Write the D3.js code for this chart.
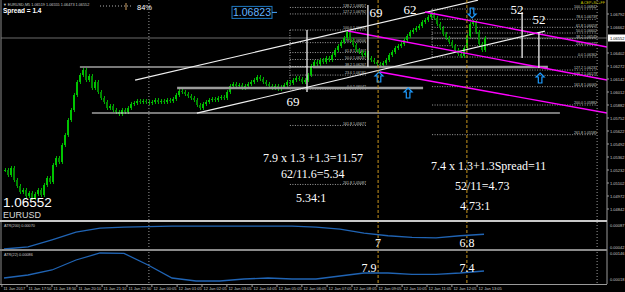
<!DOCTYPE html>
<html>
<head>
<style>
  body { margin: 0; background: #000; }
  svg { display: block; }
  .tiny { font-family: "Liberation Sans", Arial, sans-serif; fill: #c8c8c8; }
  .num { font-family: "Liberation Serif", "Times New Roman", serif; fill: #fff; }
</style>
<script src="https://d3js.org/d3.v7.min.js"></script>
</head>
<body>
<svg id="chart" width="625" height="292"></svg>
<script>
// EURUSD M5 closes, one per bar
var closes = [
  1.0523,1.0518,1.0525,1.0513,1.0507,1.0501,1.0503,1.0497,1.0500,1.0495,
  1.0499,1.0503,1.0498,1.0508,1.0515,1.0511,1.0528,1.0535,1.0531,1.0548,
  1.0558,1.0573,1.0583,1.0598,1.0611,1.0618,1.0623,1.0613,1.0617,1.0605,
  1.0611,1.0601,1.0595,1.0591,1.0585,1.0587,1.0583,1.0581,1.0579,1.0583,
  1.0581,1.0585,1.0589,1.0590,1.0592,1.0591,1.0592,1.0591,1.0590,1.0591,
  1.0593,1.0591,1.0592,1.0591,1.0593,1.0592,1.0594,1.0598,1.0602,1.0601,
  1.0599,1.0597,1.0595,1.0593,1.0588,1.0585,1.0589,1.0591,1.0593,1.0594,
  1.0593,1.0595,1.0596,1.0595,1.0601,1.0607,1.0609,1.0607,1.0608,1.0605,
  1.0607,1.0609,1.0611,1.0613,1.0616,1.0614,1.0611,1.0609,1.0607,1.0605,
  1.0607,1.0604,1.0606,1.0608,1.0611,1.0610,1.0613,1.0615,1.0614,1.0611,
  1.0613,1.0618,1.0627,1.0631,1.0629,1.0633,1.0631,1.0635,1.0633,1.0638,
  1.0643,1.0647,1.0651,1.0655,1.0661,1.0653,1.0648,1.0643,1.0641,1.0638,
  1.0640,1.0635,1.0633,1.0631,1.0629,1.0628,1.0630,1.0633,1.0638,1.0641,
  1.0645,1.0647,1.0649,1.0653,1.0657,1.0661,1.0663,1.0665,1.0667,1.0671,
  1.0673,1.0676,1.0679,1.0675,1.0669,1.0665,1.0659,1.0655,1.0651,1.0647,
  1.0643,1.0639,1.0637,1.0645,1.0657,1.0669,1.0671,1.0661,1.0649,1.0643,
  1.0655
];

// indicator samples, every 8th bar
var atrIdx = [0,8,16,24,32,40,48,56,64,72,80,88,96,104,112,120,128,136,144,152,160];
var atr200 = [0.00040,0.00044,0.00058,0.00073,0.00081,0.00083,0.00084,0.00085,0.00085,0.00085,
              0.00085,0.00085,0.00085,0.00083,0.00079,0.00071,0.00066,0.00063,0.00062,0.00066,0.00069];
var atr22 = [0.00025,0.00040,0.00065,0.00115,0.00150,0.00148,0.00090,0.00025,0.00010,0.00010,
             0.00020,0.00025,0.00020,0.00020,0.00035,0.00050,0.00050,0.00043,0.00043,0.00050,0.00060];

var priceTicks = ["1.06792","1.06662","1.06532","1.06402","1.06272","1.06142","1.06012","1.05882",
                  "1.05752","1.05622","1.05492","1.05362","1.05232","1.05102","1.04972","1.04842"];
var atr200Ticks = ["0.00087","0.00042"];
var atr22Ticks = ["0.00146","0.00018"];

var timeIdx = [-0.7,7.7,16,24.3,32.7,41,49.3,57.7,66,74.3,82.7,91,99.3,107.7,116,124.3,132.7,141,149.3,157.7];
var timeLabels = ["11 Jan 2017","11 Jan 17:50","11 Jan 18:50","11 Jan 20:10","11 Jan 21:10","11 Jan 22:50",
                  "12 Jan 00:05","12 Jan 01:05","12 Jan 02:05","12 Jan 03:05","12 Jan 04:05","12 Jan 05:05",
                  "12 Jan 06:05","12 Jan 07:05","12 Jan 08:05","12 Jan 09:05","12 Jan 10:05","12 Jan 11:05",
                  "12 Jan 12:05","12 Jan 13:05"];

// chart objects: [bar1, price1, bar2, price2]
var whiteLines = [[43.7,1.0613,158,1.0693],[64.3,1.0580,180.3,1.0662],[25.3,1.06262,103,1.06262],[29.3,1.05802,185.3,1.05802]];
var grayLines = [[57.7,1.06052,139.7,1.06052],[103,1.06262,181.3,1.06262]];
var magentaLines = [[140.3,1.06812,201,1.06462],[114.7,1.06622,201,1.06132],[125.3,1.06212,201,1.05802]];
var whiteVerticals = [[101,1.06632,1.06012],[121.3,1.06882,1.06262],[172.7,1.06812,1.06352],[178.3,1.06612,1.06252]];
var orangeVerticals = [124.7,154.3];
var dottedVerticals = [48.3,197.7];

var fibLevels = [138.2,127.2,100,78.6,61.8,50,38.2,23.6,0,-61.8,-161.8];
var fibA = [95.3,120.7,1.06632,1.06042];
var fibLevelsB = [100,78.6,61.8,50,38.2,23.6,0,-27.2,-38.2,-61.8,-100,-161.8];
var fibB = [142.7,197.7,1.06842,1.06362];

var bigLabels = [["69",124,1.06812],["62",135.3,1.06842],["52",171,1.06842],["52",178.3,1.06742],["69",96.3,1.05922]];
var calcTexts = [["7.9 x 1.3 +1.3=11.57",86.3,1.05312],["62/11.6=5.34",92.3,1.05152],["5.34:1",97.3,1.04912],
                 ["7.4 x 1.3+1.3Spread=11",142.3,1.05232],["52/11=4.73",150.3,1.05032],["4.73:1",152,1.04832]];
var arrows = [[125,1.06162,1],[134.7,1.06002,1],[178.7,1.06152,1],[156,1.06802,-1]];
var panel1Notes = [["7",124.7,0.00044],["6.8",154.3,0.00044]];
var panel2Notes = [["7.9",121.7,0.00055],["7.4",154.3,0.00055]];

var bid = 1.06552;
var priceLabel = 1.06823;

var svg = d3.select("#chart");
var W = 625, H = 292, axisX = 607;

var x = d3.scaleLinear().domain([0, 160]).range([4, 484]);
var y = d3.scaleLinear().domain([1.04732, 1.06932]).range([220, 0]);
var y1 = d3.scaleLinear().domain([0.00038, 0.00095]).range([250, 221]);
var y2 = d3.scaleLinear().domain([0, 0.0016]).range([283, 251]);

svg.append("rect").attr("width", W).attr("height", H).attr("fill", "#000");

svg.append("defs").append("clipPath").attr("id", "mainClip")
  .append("rect").attr("x", 1).attr("y", 0).attr("width", axisX - 1).attr("height", 220);

var main = svg.append("g").attr("clip-path", "url(#mainClip)");

// full-height separators
dottedVerticals.forEach(function(b) {
  svg.append("line").attr("x1", x(b)).attr("x2", x(b)).attr("y1", 0).attr("y2", 284)
    .attr("stroke", "#9a9a9a").attr("stroke-dasharray", "1,2");
});

// bid line
main.append("line").attr("x1", 1).attr("x2", axisX).attr("y1", y(bid)).attr("y2", y(bid))
  .attr("stroke", "#6a6a6a");

// fibonacci sets
function drawFib(levels, f) {
  var g = main.append("g");
  levels.forEach(function(l) {
    var p = f[3] + (f[2] - f[3]) * l / 100;
    g.append("line").attr("x1", x(f[0])).attr("x2", x(f[1])).attr("y1", y(p)).attr("y2", y(p))
      .attr("stroke", "#a0a0a0").attr("stroke-dasharray", "1,1.5");
    g.append("text").attr("class", "tiny").attr("x", x(f[1])).attr("y", y(p) - 0.8)
      .attr("text-anchor", "end").attr("font-size", 3.6)
      .text((l < 0 ? 100 - l : l).toFixed(1) + " " + p.toFixed(5));
  });
  g.append("line").attr("x1", x(f[0])).attr("x2", x(f[0])).attr("y1", y(f[2])).attr("y2", y(f[3]))
    .attr("stroke", "#a0a0a0").attr("stroke-dasharray", "1,1.5");
}
drawFib(fibLevels, fibA);
drawFib(fibLevelsB, fibB);

// candles
var bars = closes.map(function(c, i) { return {i: i, o: i ? closes[i - 1] : c, c: c}; });
var cg = main.append("g").attr("shape-rendering", "crispEdges");
cg.selectAll("line").data(bars).enter().append("line")
  .attr("x1", function(d) { return x(d.i) + 1; })
  .attr("x2", function(d) { return x(d.i) + 1; })
  .attr("y1", function(d) { return y(Math.max(d.o, d.c)) - 2; })
  .attr("y2", function(d) { return y(Math.min(d.o, d.c)) + 2; })
  .attr("stroke", "#00b000");
cg.selectAll("rect").data(bars).enter().append("rect")
  .attr("x", function(d) { return x(d.i); })
  .attr("width", 2)
  .attr("y", function(d) { return y(Math.max(d.o, d.c)); })
  .attr("height", function(d) { return Math.max(1, Math.abs(y(d.o) - y(d.c))); })
  .attr("fill", function(d) { return d.c >= d.o ? "#00c400" : "#008a00"; });

// trend lines
function seg(list, color, w) {
  list.forEach(function(s) {
    main.append("line").attr("x1", x(s[0])).attr("y1", y(s[1])).attr("x2", x(s[2])).attr("y2", y(s[3]))
      .attr("stroke", color).attr("stroke-width", w);
  });
}
seg(grayLines, "#9c9c9c", 2.5);
seg(whiteLines, "#f0f0f0", 1.2);
seg(magentaLines, "#ff00ff", 1.4);

whiteVerticals.forEach(function(v) {
  main.append("line").attr("x1", x(v[0])).attr("x2", x(v[0])).attr("y1", y(v[1])).attr("y2", y(v[2]))
    .attr("stroke", "#f0f0f0").attr("stroke-width", 1.3);
});

orangeVerticals.forEach(function(b) {
  svg.append("line").attr("x1", x(b)).attr("x2", x(b)).attr("y1", 0).attr("y2", 284)
    .attr("stroke", "#c8961e").attr("stroke-dasharray", "3,2");
});

// arrows
arrows.forEach(function(a) {
  main.append("path")
    .attr("d", "M0,-5L4,-1L1.8,-1L1.8,5L-1.8,5L-1.8,-1L-4,-1Z")
    .attr("transform", "translate(" + x(a[0]) + "," + y(a[1]) + ") scale(1," + a[2] + ")")
    .attr("fill", "none").attr("stroke", "#1e9cff").attr("stroke-width", 1.2);
});

// numbers and calc texts
bigLabels.forEach(function(t) {
  svg.append("text").attr("class", "num").attr("x", x(t[1])).attr("y", y(t[2]))
    .attr("text-anchor", "middle").attr("dominant-baseline", "central").attr("font-size", 13).text(t[0]);
});
calcTexts.forEach(function(t) {
  svg.append("text").attr("class", "num").attr("x", x(t[1])).attr("y", y(t[2]))
    .attr("font-size", 12).text(t[0]);
});

// price label object
var plx = x(76), ply = y(priceLabel) + 1.5;
svg.append("rect").attr("x", plx).attr("y", ply - 6).attr("width", 40).attr("height", 12)
  .attr("fill", "#000").attr("stroke", "#1f78c0");
svg.append("line").attr("x1", plx + 40).attr("x2", plx + 45).attr("y1", ply).attr("y2", ply)
  .attr("stroke", "#4aa8ff");
svg.append("text").attr("x", plx + 20).attr("y", ply + 3.8).attr("text-anchor", "middle")
  .attr("font-family", "Liberation Sans, Arial, sans-serif").attr("font-size", 10.5)
  .attr("fill", "#62b4ff").text(priceLabel.toFixed(5));

// top-left info
svg.append("text").attr("class", "tiny").attr("x", 3).attr("y", 6).attr("font-size", 3.8).attr("fill", "#e0e0e0")
  .text("\u25BC EURUSD,M5  1.06519 1.06555 1.06473 1.06552");
svg.append("text").attr("x", 3).attr("y", 13).attr("font-family", "Liberation Sans, Arial, sans-serif")
  .attr("font-size", 6.5).attr("font-weight", "bold").attr("fill", "#fff").text("Spread = 1.4");
svg.append("line").attr("x1", 100).attr("x2", 133).attr("y1", 6).attr("y2", 6)
  .attr("stroke", "#b0b0b0").attr("stroke-dasharray", "1,2");
svg.append("line").attr("x1", 126).attr("x2", 126).attr("y1", 3).attr("y2", 10)
  .attr("stroke", "#d0a060").attr("stroke-width", 1);
svg.append("text").attr("x", 137).attr("y", 9.5).attr("font-family", "Liberation Sans, Arial, sans-serif")
  .attr("font-size", 7.5).attr("fill", "#fff").text("84%");
svg.append("text").attr("class", "tiny").attr("x", 605).attr("y", 3.8).attr("text-anchor", "end")
  .attr("font-size", 3.6).style("fill", "#c8c800").text("A.CEP+SC+FF");

// big price and symbol
svg.append("text").attr("x", 3).attr("y", 207).attr("font-family", "Liberation Sans, Arial, sans-serif")
  .attr("font-size", 13.5).attr("fill", "#fff").text(bid.toFixed(5));
svg.append("text").attr("x", 3).attr("y", 218).attr("font-family", "Liberation Sans, Arial, sans-serif")
  .attr("font-size", 9).attr("fill", "#d8d8d8").text("EURUSD");

// indicator panels
var line1 = d3.line().x(function(d, i) { return x(atrIdx[i]); }).y(function(d) { return y1(d); });
var line2 = d3.line().x(function(d, i) { return x(atrIdx[i]); }).y(function(d) { return y2(d); });
svg.append("path").attr("d", line1(atr200)).attr("fill", "none").attr("stroke", "#2064b4").attr("stroke-width", 1.3);
svg.append("path").attr("d", line2(atr22)).attr("fill", "none").attr("stroke", "#2064b4").attr("stroke-width", 1.3);
svg.append("text").attr("class", "tiny").attr("x", 4).attr("y", 227).attr("font-size", 3.8).text("ATR(200) 0.00070");
svg.append("text").attr("class", "tiny").attr("x", 4).attr("y", 256).attr("font-size", 3.8).text("ATR(22) 0.00086");

panel1Notes.forEach(function(t) {
  svg.append("text").attr("class", "num").attr("x", x(t[1])).attr("y", y1(t[2]))
    .attr("text-anchor", "middle").attr("font-size", 12).text(t[0]);
});
panel2Notes.forEach(function(t) {
  svg.append("text").attr("class", "num").attr("x", x(t[1])).attr("y", y2(t[2]))
    .attr("text-anchor", "middle").attr("font-size", 12).text(t[0]);
});

// frame
svg.append("line").attr("x1", 1).attr("x2", 1).attr("y1", 0).attr("y2", 284).attr("stroke", "#8a8a8a");
svg.append("line").attr("x1", axisX).attr("x2", axisX).attr("y1", 0).attr("y2", 284).attr("stroke", "#9a9a9a");
svg.append("line").attr("x1", 0).attr("x2", axisX).attr("y1", 221).attr("y2", 221).attr("stroke", "#c8c8c8").attr("stroke-width", 2);
svg.append("line").attr("x1", 0).attr("x2", axisX).attr("y1", 250).attr("y2", 250).attr("stroke", "#8a8a8a").attr("stroke-width", 2);
svg.append("line").attr("x1", 0).attr("x2", axisX).attr("y1", 284.5).attr("y2", 284.5).attr("stroke", "#9a9a9a");

// price axis (ticks hidden behind the bid box are skipped)
priceTicks.filter(function(t) { return Math.abs(y(+t) - y(bid)) > 6; }).forEach(function(t) {
  var yy = y(+t);
  svg.append("line").attr("x1", axisX).attr("x2", axisX + 2).attr("y1", yy).attr("y2", yy).attr("stroke", "#9a9a9a");
  svg.append("text").attr("class", "tiny").attr("x", axisX + 3).attr("y", yy + 1.5).attr("font-size", 4).text(t);
});
atr200Ticks.forEach(function(t) {
  svg.append("text").attr("class", "tiny").attr("x", axisX + 3).attr("y", y1(+t) + 1.5).attr("font-size", 4).text(t);
});
atr22Ticks.forEach(function(t) {
  svg.append("text").attr("class", "tiny").attr("x", axisX + 3).attr("y", y2(+t) + 1.5).attr("font-size", 4).text(t);
});
svg.append("rect").attr("x", axisX + 1).attr("y", y(bid) - 3.5).attr("width", 17).attr("height", 7).attr("fill", "#fff");
svg.append("text").attr("x", axisX + 3).attr("y", y(bid) + 1.5).attr("font-size", 4)
  .attr("font-family", "Liberation Sans, Arial, sans-serif").attr("fill", "#000").text(bid.toFixed(5));

// time axis
timeIdx.forEach(function(b, i) {
  var xx = x(b);
  svg.append("line").attr("x1", xx).attr("x2", xx).attr("y1", 284).attr("y2", 287).attr("stroke", "#9a9a9a");
  svg.append("text").attr("class", "tiny").attr("x", xx + 1.5).attr("y", 289.5).attr("font-size", 4).text(timeLabels[i]);
});
</script>
</body>
</html>
